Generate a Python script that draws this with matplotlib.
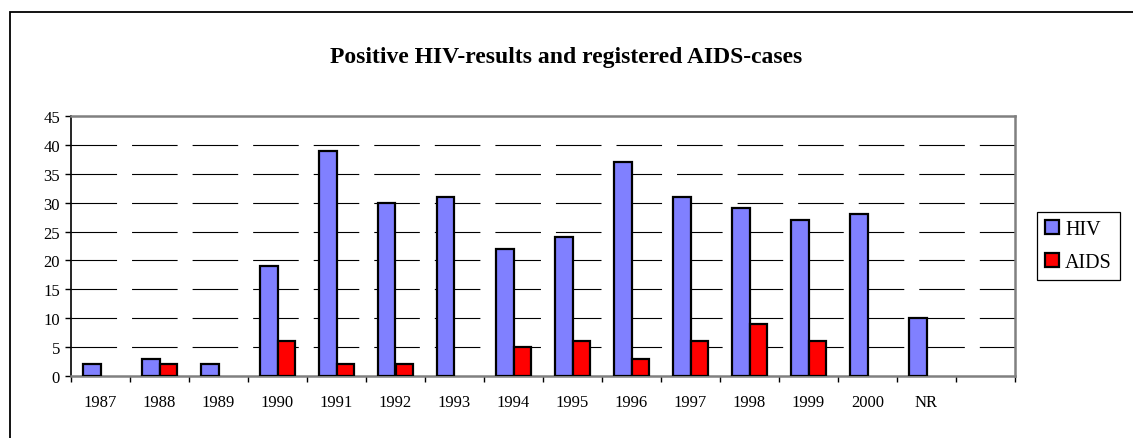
import numpy as np
import matplotlib
matplotlib.use('Agg')
import matplotlib.pyplot as plt
from matplotlib.patches import Rectangle

# data
years = ['1987', '1988', '1989', '1990', '1991', '1992', '1993', '1994',
         '1995', '1996', '1997', '1998', '1999', '2000', 'NR', '']
hiv = [2, 3, 2, 19, 39, 30, 31, 22, 24, 37, 31, 29, 27, 28, 10, 0]
aids = [0, 2, 0, 6, 2, 2, 0, 5, 6, 3, 6, 9, 6, 0, 0, 0]

plt.rcParams['font.family'] = ['Liberation Serif', 'DejaVu Serif']
plt.rcParams['lines.scale_dashes'] = False

W, H = 1133, 439
fig = plt.figure(figsize=(W / 100, H / 100), dpi=100)

# outer chart border (runs off right/bottom edge)
fig.patches.append(Rectangle((10 / W, -0.1), 1.2, 1.1 - 13 / H,
                             transform=fig.transFigure, fill=False,
                             edgecolor='black', lw=1.3))

ax = fig.add_axes([71 / W, 1 - 377 / H, 944 / W, 260 / H])

x = np.arange(len(years))
bw = 0.3
# zero values draw no bar in the original
hiv_h = np.where(np.array(hiv) > 0, hiv, np.nan)
aids_h = np.where(np.array(aids) > 0, aids, np.nan)
ax.bar(x - bw / 2, hiv_h, bw, color='#8080FF', edgecolor='black', lw=1.6,
       label='HIV', zorder=3)
ax.bar(x + bw / 2, aids_h, bw, color='#FF0000', edgecolor='black', lw=1.6,
       label='AIDS', zorder=3)

ax.set_xlim(-0.5, len(years) - 0.5)
ax.set_ylim(0, 45)
ax.set_yticks(range(0, 46, 5))

# long-dash gridlines
for v in range(5, 45, 5):
    ax.axhline(v, color='black', lw=0.8, ls=(0, (32.8, 10.8)), zorder=1)

ax.set_xticks(x)
ax.set_xticklabels(years)
ax.set_xticks(np.arange(-0.5, len(years)), minor=True)
ax.tick_params(axis='x', which='major', length=0, pad=13, labelsize=12)
ax.tick_params(axis='x', which='minor', length=4, width=1, direction='out')
ax.tick_params(axis='y', length=4, width=1, direction='out', pad=4,
               labelsize=12)

for side in ['top', 'right', 'bottom']:
    ax.spines[side].set_color('#808080')
    ax.spines[side].set_linewidth(1.8)
ax.spines['left'].set_color('black')
ax.spines['left'].set_linewidth(1.2)

fig.text(0.5, 1 - 57 / H, 'Positive HIV-results and registered AIDS-cases',
         ha='center', va='center', fontsize=17, fontweight='bold')

leg = fig.legend(loc='center left', bbox_to_anchor=(1037 / W, 1 - 247 / H),
                 fontsize=14.5, frameon=True, fancybox=False, framealpha=1,
                 edgecolor='black', handlelength=0.7, handleheight=0.7,
                 handletextpad=0.3, labelspacing=0.7, borderpad=0.4,
                 borderaxespad=0)
leg.get_frame().set_linewidth(0.9)

fig.savefig('out.png', dpi=100)
